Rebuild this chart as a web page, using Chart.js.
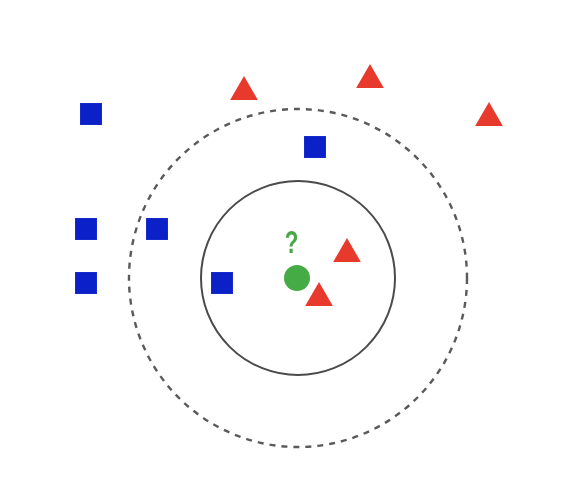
<!DOCTYPE html>
<html><head><meta charset="utf-8">
<script src="https://cdn.jsdelivr.net/npm/chart.js@4"></script>
<style>html,body{margin:0;padding:0;background:#fff}#w{width:584px;height:502px}</style>
</head><body><div id="w"><canvas id="c" width="584" height="502"></canvas></div>
<script>
const classA_x = [91, 315, 86, 157, 86, 222];
const classA_y = [114, 147, 229, 229, 283, 283];
const classB_x = [244, 370, 489, 347, 319];
const classB_y = [92, 80, 118, 254, 298];
const query_x = [297];
const query_y = [278];
const queryLabel = '?';
const circleCenter = [298, 278];
const circleRadii = [97, 169];
const circleDashed = [false, true];

const pts = (xs, ys) => xs.map((x, i) => ({x, y: ys[i]}));

const circlesPlugin = {
  id: 'circles',
  beforeDatasetsDraw(chart) {
    const {ctx, scales: {x, y}} = chart;
    const cx = x.getPixelForValue(circleCenter[0]);
    const cy = y.getPixelForValue(circleCenter[1]);
    circleRadii.forEach((r, i) => {
      const rp = Math.abs(x.getPixelForValue(circleCenter[0] + r) - cx);
      ctx.save();
      ctx.beginPath();
      ctx.arc(cx, cy, rp, 0, Math.PI * 2);
      ctx.lineWidth = circleDashed[i] ? 2.4 : 2;
      ctx.strokeStyle = circleDashed[i] ? '#5a5a5a' : '#4a4a4a';
      ctx.setLineDash(circleDashed[i] ? [6, 6] : []);
      ctx.stroke();
      ctx.restore();
    });
  },
  afterDatasetsDraw(chart) {
    const {ctx, scales: {x, y}} = chart;
    const tx = x.getPixelForValue(query_x[0] - 5.5);
    const ty = y.getPixelForValue(query_y[0] - 33.5);
    ctx.save();
    ctx.translate(tx, ty);
    ctx.scale(0.72, 1);
    ctx.fillStyle = '#4aa64a';
    ctx.font = 'bold 31px "Liberation Sans"';
    ctx.textAlign = 'center';
    ctx.textBaseline = 'middle';
    ctx.fillText(queryLabel, 0, 0);
    ctx.restore();
  }
};

new Chart(document.getElementById('c'), {
  type: 'scatter',
  data: {
    datasets: [
      {label: 'A', data: pts(classA_x, classA_y), pointStyle: 'rect', pointRadius: 15.5, backgroundColor: '#0c20c8', borderColor: '#0c20c8', borderWidth: 0},
      {label: 'B', data: pts(classB_x, classB_y), pointStyle: 'triangle', pointRadius: 16, backgroundColor: '#e8392d', borderColor: '#e8392d', borderWidth: 0},
      {label: 'Q', data: pts(query_x, query_y), pointStyle: 'circle', pointRadius: 13, backgroundColor: '#45ab45', borderColor: '#45ab45', borderWidth: 0}
    ]
  },
  options: {
    responsive: false,
    animation: false,
    layout: {padding: 0, autoPadding: false},
    plugins: {legend: {display: false}, tooltip: {enabled: false}},
    scales: {
      x: {type: 'linear', min: 0, max: 584, display: false},
      y: {type: 'linear', min: 0, max: 502, reverse: true, display: false}
    }
  },
  plugins: [circlesPlugin]
});
</script></body></html>
